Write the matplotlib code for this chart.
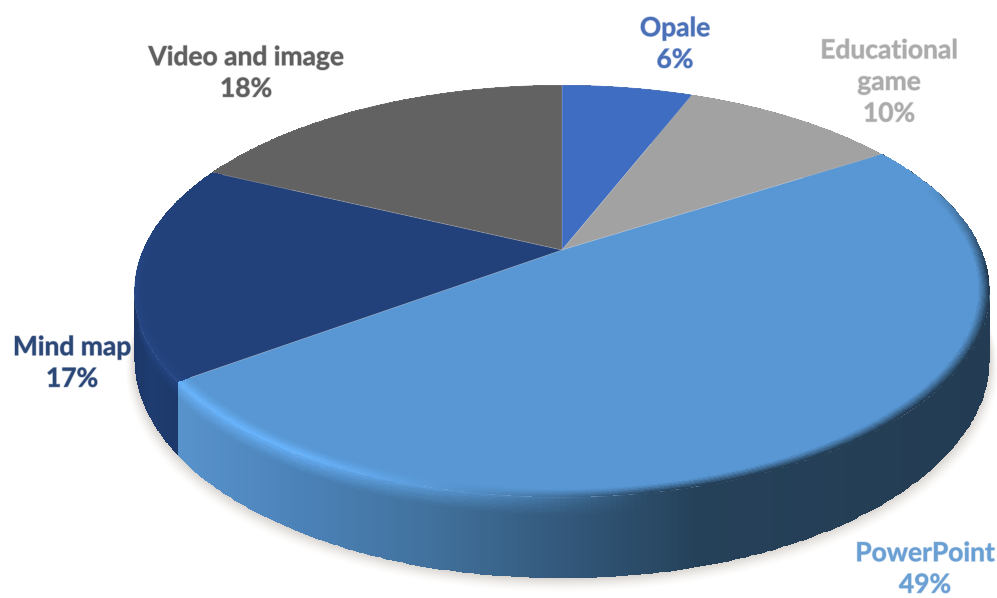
import numpy as np
import matplotlib
matplotlib.use("Agg")
import matplotlib.pyplot as plt
import matplotlib.patheffects as pe
from matplotlib.colors import to_rgb
from matplotlib.patches import Polygon

# ---- data ----
categories = ["Opale", "Educational\ngame", "PowerPoint", "Mind map", "Video and image"]
values = [6, 10, 49, 17, 18]
top_colors = ["#3F6DC2", "#A2A2A2", "#5897D4", "#224079", "#626262"]
label_colors = ["#4A70B8", "#ABABAB", "#6A9FD3", "#2A4777", "#5F5F5F"]
label_xy = [(675, 44), (889, 82), (925, 569), (72, 363), (246, 73)]

# ---- projection of the unit disc (perspective) ----
CX, CY, B, A, K, DEPTH = 562, 250, 419, 197.8, 0.199, 65


def project(theta, r=1.0, z=0.0):
    X = r * np.sin(theta)
    Y = r * np.cos(theta)
    den = 1 + K * Y
    return CX + B * X / den, CY + (-A * Y + z) / den


def rgb(c):
    return np.array(to_rgb(c))


def ramp(x, xs, cols):
    arr = np.array([to_rgb(c) for c in cols])
    return np.stack([np.interp(x, xs, arr[:, i]) for i in range(3)], axis=-1)


wall_ramps = {
    "PowerPoint": ([187, 300, 420, 560, 700, 990],
                   ["#5892CB", "#4B82B8", "#42739F", "#33597C", "#254159", "#233C53"]),
    "Mind map": ([133, 150, 190], ["#1B3566", "#1F3C70", "#1C3768"]),
}
glow_gain = {"PowerPoint": 1.17, "Mind map": 1.08}


def edge_color(name, xc, top):
    wall = ramp(xc, *wall_ramps[name])
    light = np.clip(np.interp(xc, [300, 650], [1, 0]), 0, 1)[..., None]
    glow = np.clip(top * glow_gain[name], 0, 1)
    return light * glow + (1 - light) * wall, wall


fig = plt.figure(figsize=(9.97, 5.98), dpi=100)
ax = fig.add_axes([0, 0, 1, 1])
ax.set_xlim(0, 997)
ax.set_ylim(598, 0)
ax.axis("off")

fractions = np.array(values, dtype=float) / sum(values)
edges = np.concatenate([[0], np.cumsum(fractions)]) * 2 * np.pi

# soft shadow under the disc
th = np.linspace(0, 2 * np.pi, 400)
for grow, al in zip(np.linspace(18, 0, 10),
                    [0.02, 0.025, 0.03, 0.04, 0.05, 0.06, 0.07, 0.08, 0.09, 0.1]):
    px, py = project(th, 1.0, DEPTH + grow * 0.6)
    ax.add_patch(Polygon(np.c_[CX + (px - CX) * (1 + grow / 900), py], closed=True,
                         fc="#A89F96", ec="none", alpha=al, zorder=1))

# side walls
for i in [1, 4, 0, 3, 2]:
    name = categories[i]
    t = np.linspace(edges[i], edges[i + 1], 260)
    zs = np.linspace(0, DEPTH, 33)
    T, Z = np.meshgrid(t, zs)
    X, Y = project(T, 1.0, Z)
    xc = 0.5 * (X[:-1, :-1] + X[1:, 1:])
    if name in wall_ramps:
        top = rgb(top_colors[i])
        edge, wall = edge_color(name, xc, top)
        fall = np.clip(np.linspace(0, 1, 32) / 0.22, 0, 1)[:, None, None] ** 0.8
        col = edge + (wall - edge) * fall
    else:
        col = np.ones(xc.shape + (3,)) * rgb(top_colors[i]) * 0.6
    ax.pcolormesh(X, Y, col, shading="flat", antialiased=False,
                  linewidth=0, zorder=2 + (name == "PowerPoint"))

# top faces
for i, c in enumerate(top_colors):
    t = np.linspace(edges[i], edges[i + 1], 200)
    px, py = project(t)
    pts = np.r_[[[CX, CY]], np.c_[px, py]]
    ax.add_patch(Polygon(pts, closed=True, fc=c, ec=(1, 1, 1, 0.18), lw=0.6, zorder=5))

# rim bevel on the front of the top faces
for i in (2, 3):
    name = categories[i]
    t = np.linspace(edges[i], edges[i + 1], 300)
    rr = np.linspace(0.972, 1.0, 12)
    T, R = np.meshgrid(t, rr)
    X, Y = project(T, R, 0)
    xc = 0.5 * (X[:-1, :-1] + X[1:, 1:])
    s = np.linspace(0, 1, 11)[:, None, None]
    Tc = 0.5 * (T[:-1, :-1] + T[1:, 1:])
    vis = np.clip((0.35 - np.cos(Tc)) / 0.45, 0, 1)[..., None]
    top = rgb(top_colors[i])
    edge, _ = edge_color(name, xc, top)
    col = top + (edge - top) * (s ** 1.2 * vis)
    ax.pcolormesh(X, Y, col, shading="flat", antialiased=False, linewidth=0, zorder=6)

# labels
for name, v, (x, y), c in zip(categories, values, label_xy, label_colors):
    ax.text(x, y, f"{name}\n{v}%", ha="center", va="center", color=c, fontsize=19,
            fontfamily="Lato", fontweight="bold", linespacing=1.38, zorder=10,
            path_effects=[pe.withStroke(linewidth=1.0, foreground=c, alpha=0.35)])

fig.savefig("out.png", dpi=100)
